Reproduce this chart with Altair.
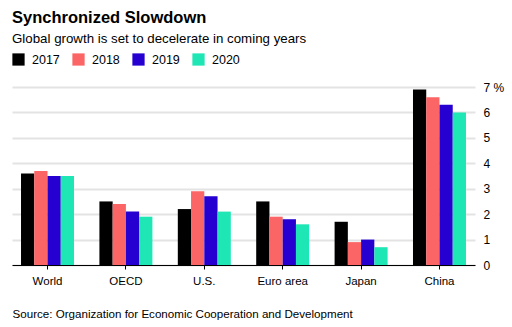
import altair as alt
import pandas as pd

regions = ["World", "OECD", "U.S.", "Euro area", "Japan", "China"]
years = ["2017", "2018", "2019", "2020"]
g2017 = [3.6, 2.5, 2.2, 2.5, 1.7, 6.9]
g2018 = [3.7, 2.4, 2.9, 1.9, 0.9, 6.6]
g2019 = [3.5, 2.1, 2.7, 1.8, 1.0, 6.3]
g2020 = [3.5, 1.9, 2.1, 1.6, 0.7, 6.0]
colors = ["#000000", "#fb6565", "#2600d1", "#1ee6b4"]

rows = []
for y, vals in zip(years, [g2017, g2018, g2019, g2020]):
    for r, v in zip(regions, vals):
        rows.append({"region": r, "year": y, "growth": v})
df = pd.DataFrame(rows)

FONT = "Liberation Sans"

chart = alt.Chart(df).mark_bar().encode(
    x=alt.X("region:N", sort=regions,
            scale=alt.Scale(paddingInner=0.324, paddingOuter=0.115),
            axis=alt.Axis(title="Source: Organization for Economic Cooperation and Development",
                          titleAnchor="start", titleAlign="left", titleX=0, titleY=52,
                          titleFontWeight="normal", titleFontSize=11.6, titleFont=FONT,
                          titleColor="#000000", titleBaseline="alphabetic",
                          labelAngle=0, labelFont=FONT, labelFontSize=11.5, labelColor="#000000",
                          labelPadding=6, domainColor="#000000", domainWidth=1,
                          tickColor="#000000", tickSize=4, grid=False)),
    xOffset=alt.XOffset("year:N", sort=years, scale=alt.Scale(paddingInner=0, paddingOuter=0)),
    y=alt.Y("growth:Q", scale=alt.Scale(domain=[0, 7], nice=False),
            axis=alt.Axis(orient="right", title=None, values=[0, 1, 2, 3, 4, 5, 6, 7],
                          labelExpr="datum.value == 7 ? '7 %' : datum.label",
                          labelFont=FONT, labelFontSize=12, labelColor="#000000",
                          labelPadding=8, ticks=False, domain=False,
                          grid=True, gridColor="#e3e3e3", gridWidth=2)),
    color=alt.Color("year:N", sort=years, scale=alt.Scale(domain=years, range=colors),
                    legend=alt.Legend(title=None, orient="none", legendX=0, legendY=-34,
                                      direction="horizontal", columns=4,
                                      symbolType="square", symbolSize=150,
                                      symbolStrokeWidth=0, symbolOpacity=1,
                                      labelFont=FONT, labelFontSize=12.5, labelColor="#000000",
                                      labelOffset=7, columnPadding=12)),
).properties(
    width=463, height=178,
    title=alt.TitleParams("Synchronized Slowdown",
                          subtitle="Global growth is set to decelerate in coming years",
                          anchor="start", frame="group", font=FONT, fontSize=16.5,
                          fontWeight=900, color="#000000",
                          subtitleFont=FONT, subtitleFontSize=13.3, subtitleColor="#000000",
                          subtitlePadding=5, offset=8),
    autosize=alt.AutoSizeParams(type="none"),
    padding={"left": 12, "top": 87, "right": 37, "bottom": 62},
).configure_view(stroke=None)

chart.save("out.html", embed_options={"renderer": "svg", "actions": False})
